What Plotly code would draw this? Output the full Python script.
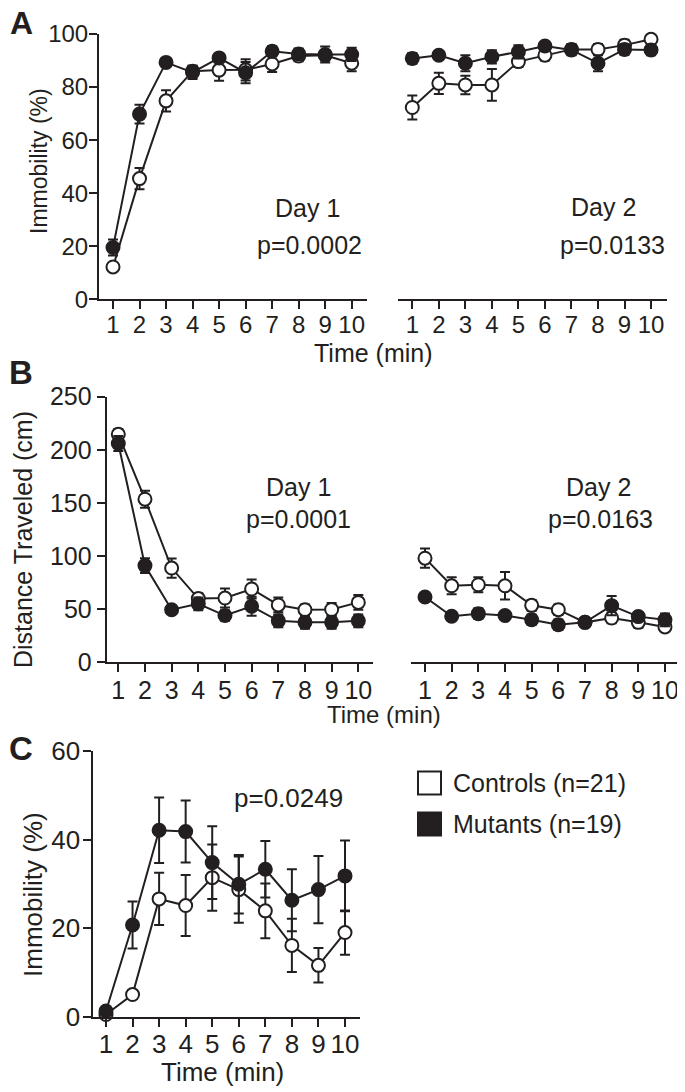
import plotly.graph_objects as go

W, H = 685, 1092          # target picture size
OFF = 8                   # page body margin around the plot div
FW, FH = W - OFF, H - OFF  # figure size so the div ends at the window edge
INK = "#231f20"
FONT = "Liberation Sans, Arial, sans-serif"

minutes = [1, 2, 3, 4, 5, 6, 7, 8, 9, 10]
tick_labels = ["1", "2", "3", "4", "5", "6", "7", "8", "9", "10"]

# Panel A - immobility (%) Day 1 / Day 2
ctrl_A1 = [12.2, 45.5, 74.8, 86.0, 86.4, 86.5, 88.7, 91.7, 92.0, 89.0]
ctrl_A1_err = [1.5, 4, 4, 2, 4, 4, 3, 2, 2, 3]
mut_A1 = [19.5, 69.8, 89.3, 85.5, 91.0, 85.4, 93.5, 92.5, 92.3, 92.3]
mut_A1_err = [3, 3.5, 1.5, 2.5, 1.5, 4, 2, 2, 3, 2.5]

ctrl_A2 = [72.3, 81.4, 80.8, 80.8, 89.6, 92.0, 94.2, 94.2, 95.8, 98.0]
ctrl_A2_err = [4.5, 4, 3.5, 6, 2, 2, 2, 2, 2, 1]
mut_A2 = [90.8, 92.0, 89.0, 91.4, 93.3, 95.5, 94.0, 89.0, 94.2, 94.0]
mut_A2_err = [2, 1.5, 3, 2.5, 2.5, 1.5, 2, 3, 2, 2]

# Panel B - distance traveled (cm) Day 1 / Day 2
ctrl_B1 = [214.6, 153.5, 88.7, 60.0, 60.5, 69.0, 54.0, 49.5, 49.7, 56.4]
ctrl_B1_err = [5, 8, 9, 5, 9, 9, 7, 5, 6, 7]
mut_B1 = [206.0, 91.0, 49.5, 55.0, 44.0, 52.7, 39.0, 37.6, 37.6, 39.0]
mut_B1_err = [7, 7, 3, 6, 5, 9, 6, 6, 6, 6]

ctrl_B2 = [98.0, 72.0, 73.0, 72.0, 53.6, 49.5, 37.6, 41.7, 37.6, 33.3]
ctrl_B2_err = [9, 8, 7, 13, 5, 5, 3, 5, 5, 4]
mut_B2 = [61.5, 43.3, 45.8, 44.0, 40.0, 35.4, 37.6, 53.3, 43.0, 40.0]
mut_B2_err = [4, 3, 5, 4, 5, 5, 4, 9, 4, 6]

# Panel C - immobility (%)
ctrl_C = [0.5, 5.0, 26.6, 25.1, 31.4, 28.7, 23.9, 16.1, 11.6, 19.0]
ctrl_C_err = [0.3, 1, 5.9, 6.9, 7.5, 7.5, 6.2, 6.0, 3.9, 5.0]
mut_C = [1.3, 20.7, 42.1, 41.8, 34.8, 29.9, 33.3, 26.3, 28.7, 31.8]
mut_C_err = [0.5, 5.3, 7.4, 7.0, 8.2, 6.6, 6.4, 7.0, 7.6, 8.0]

legend_labels = ["Controls (n=21)", "Mutants (n=19)"]


def fx(px):
    return (px - OFF) / FW


def fy(py):
    return 1 - (py - OFF) / FH


fig = go.Figure()


def add_series(xa, ya, ctrl, ctrl_err, mut, mut_err):
    for vals, errs, fill in [(ctrl, ctrl_err, "white"), (mut, mut_err, INK)]:
        fig.add_trace(go.Scatter(
            x=minutes, y=vals, xaxis=xa, yaxis=ya, mode="lines+markers",
            line=dict(color=INK, width=2),
            marker=dict(symbol="circle", size=13, color=fill,
                        line=dict(color=INK, width=2)),
            error_y=dict(type="data", array=errs, visible=True,
                         color=INK, thickness=2, width=5),
            showlegend=False, cliponaxis=False, hoverinfo="skip"))


add_series("x", "y", ctrl_A1, ctrl_A1_err, mut_A1, mut_A1_err)
add_series("x2", "y2", ctrl_A2, ctrl_A2_err, mut_A2, mut_A2_err)
add_series("x3", "y3", ctrl_B1, ctrl_B1_err, mut_B1, mut_B1_err)
add_series("x4", "y4", ctrl_B2, ctrl_B2_err, mut_B2, mut_B2_err)
add_series("x5", "y5", ctrl_C, ctrl_C_err, mut_C, mut_C_err)


def tf(size):
    return dict(family=FONT, size=size, color=INK)


def xax(dom, rng, anchor, fs, standoff):
    return dict(domain=[fx(dom[0]), fx(dom[1])], range=rng, anchor=anchor,
                tickmode="array", tickvals=minutes, ticktext=tick_labels,
                tickangle=0, ticks="outside", ticklen=8, tickwidth=2,
                tickcolor=INK, showline=True, linecolor=INK, linewidth=2,
                showgrid=False, zeroline=False, tickfont=tf(fs),
                automargin=False, ticklabelstandoff=standoff)


def yax(dom, rng, dtick, anchor, fs=24, standoff=0, visible=True):
    d = dict(domain=[fy(dom[1]), fy(dom[0])], range=rng, anchor=anchor,
             showgrid=False, zeroline=False, automargin=False)
    if visible:
        d.update(tickmode="linear", tick0=0, dtick=dtick, ticks="outside",
                 ticklen=8, tickwidth=2, tickcolor=INK, showline=True,
                 linecolor=INK, linewidth=2, tickfont=tf(fs),
                 ticklabelstandoff=standoff)
    else:
        d.update(visible=False)
    return d


fig.update_layout(
    template="none",
    width=FW, height=FH, autosize=False,
    margin=dict(l=0, r=0, t=0, b=0, pad=0),
    paper_bgcolor="white", plot_bgcolor="white",
    font=dict(family=FONT, color=INK),
    showlegend=False,
    xaxis=xax([99, 366.7], [0.472, 10.566], "y", 24, -5),
    yaxis=yax([34, 299.3], [0, 100], 20, "x", 24, -4),
    xaxis2=xax([398.3, 666.7], [0.472, 10.59], "y2", 24, -5),
    yaxis2=yax([34, 299.3], [0, 100], 20, "x2", visible=False),
    xaxis3=xax([106.7, 373.3], [0.565, 10.5625], "y3", 25, -3),
    yaxis3=yax([396.7, 662.3], [0, 250], 50, "x3", 25, 0),
    xaxis4=xax([411, 678.3], [0.475, 10.5], "y4", 25, -3),
    yaxis4=yax([396.7, 662.3], [0, 250], 50, "x4", visible=False),
    xaxis5=xax([93.3, 360], [0.522, 10.565], "y5", 26, -5),
    yaxis5=yax([751, 1016.7], [0, 60], 20, "x5", 26, -2),
)


def text(px, py, s, size=25, angle=0, bold=False, xanchor="center"):
    fig.add_annotation(
        x=fx(px), y=fy(py), xref="paper", yref="paper", text=s,
        showarrow=False, textangle=angle, xanchor=xanchor, yanchor="middle",
        font=dict(family=FONT, size=size, color=INK,
                  weight="bold" if bold else "normal"))


# panel letters
text(21, 23, "A", size=32, bold=True)
text(21, 372, "B", size=33, bold=True)
text(21, 748, "C", size=33, bold=True)

# axis titles
text(39, 161, "Immobility (%)", size=23, angle=-90)
text(23, 540, "Distance Traveled (cm)", size=25, angle=-90)
text(33, 895, "Immobility (%)", size=26, angle=-90)
text(374, 353, "Time (min)", size=25)
text(384, 714, "Time (min)", size=24)
text(222, 1072, "Time (min)", size=26)

# day / p-value labels
text(307, 208, "Day 1")
text(309, 245, "p=0.0002")
text(603, 207, "Day 2")
text(612, 245, "p=0.0133")
text(298, 487, "Day 1")
text(298, 519, "p=0.0001")
text(598, 487, "Day 2")
text(600, 519, "p=0.0163")
text(288, 798, "p=0.0249", size=26)

# legend
for i, (lab, fill) in enumerate(zip(legend_labels, ["white", INK])):
    cy = 783 + 41 * i
    fig.add_shape(type="rect", xref="paper", yref="paper",
                  x0=fx(418), x1=fx(441), y0=fy(cy + 11.5), y1=fy(cy - 11.5),
                  line=dict(color=INK, width=2), fillcolor=fill)
    text(451, cy, lab, size=25, xanchor="left")

fig.write_html("out.html")
